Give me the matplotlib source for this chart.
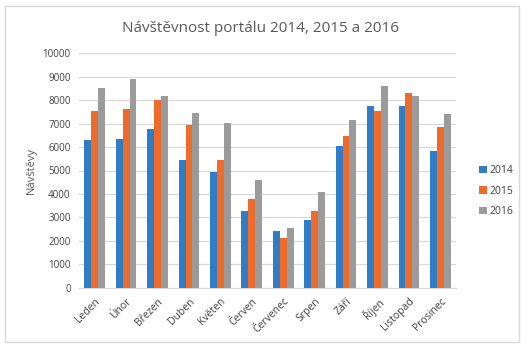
import numpy as np
import matplotlib
matplotlib.use('Agg')
import matplotlib.pyplot as plt
from matplotlib.patches import Rectangle

months = ['Leden', 'Únor', 'Březen', 'Duben', 'Květen', 'Červen',
          'Červenec', 'Srpen', 'Září', 'Říjen', 'Listopad', 'Prosinec']
years = ['2014', '2015', '2016']
visits_2014 = [6300, 6330, 6770, 5450, 4950, 3290, 2420, 2890, 6030, 7740, 7740, 5830]
visits_2015 = [7540, 7620, 8010, 6930, 5450, 3800, 2110, 3260, 6490, 7550, 8320, 6840]
visits_2016 = [8530, 8890, 8180, 7470, 7040, 4610, 2530, 4070, 7140, 8620, 8190, 7430]
colors = ['#2E7DC6', '#EE6C2B', '#9B9B9B']

plt.rcParams['font.family'] = ['Open Sans', 'DejaVu Sans']
text_col = '#595959'
tick_col = '#404040'

fig = plt.figure(figsize=(5.29, 3.5), dpi=100)
# chart border
fig.patches.append(Rectangle((5/529, 1 - 342/350), 514/529, 336/350,
                             transform=fig.transFigure, fill=False,
                             edgecolor='#D9D9D9', linewidth=1))

ax = fig.add_axes([79/529, 1 - 287.7/350, 377/529, 234.4/350])

x = np.arange(len(months))
w = 0.22
series = [visits_2014, visits_2015, visits_2016]
for i, vals in enumerate(series):
    ax.bar(x + (i - 1) * w, vals, width=w, color=colors[i], label=years[i], zorder=3)

ax.set_xlim(-0.5, len(months) - 0.5)
ax.set_ylim(0, 10000)
ax.set_yticks(np.arange(0, 10001, 1000))
ax.yaxis.grid(True, color='#D9D9D9', linewidth=0.9, zorder=0)
for s in ['top', 'right', 'left']:
    ax.spines[s].set_visible(False)
ax.spines['bottom'].set_color('#D9D9D9')
ax.tick_params(axis='both', length=0, labelsize=7, colors=tick_col, pad=6)
ax.set_xticks(x)
ax.set_xticklabels(months, rotation=45, ha='right', rotation_mode='anchor', fontsize=7.5)
ax.set_ylabel('Návštěvy', fontsize=8, color=text_col, labelpad=4)

fig.text(260/529, 1 - 28/350, 'Návštěvnost portálu 2014, 2015 a 2016',
         ha='center', va='center', fontsize=11, color=text_col)

ax.legend(loc='center left', bbox_to_anchor=(470/529, 1 - 191/350),
          bbox_transform=fig.transFigure, frameon=False, fontsize=7.5,
          handlelength=0.7, handleheight=0.7, handletextpad=0.3,
          labelspacing=0.9, labelcolor=tick_col)

fig.savefig('out.png', dpi=100)
